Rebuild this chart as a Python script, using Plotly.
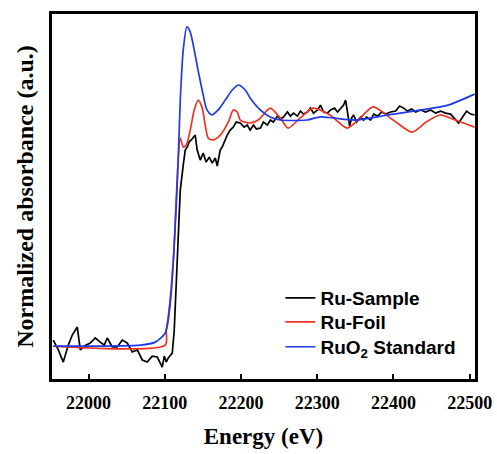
import plotly.graph_objects as go

# ---- data ----
sample_E = [21953.7, 21960.3, 21966.8, 21973.4, 21978.6, 21985.2, 21989.1, 21994.4, 22002.2, 22008.8,
            22015.3, 22020.6, 22024.5, 22031.1, 22037.6, 22044.2, 22050.8, 22057.3, 22063.9, 22070.4,
            22077.0, 22083.5, 22090.1, 22094.0, 22096.7, 22099.3, 22101.9, 22104.5, 22109.8, 22112.4,
            22115.0, 22117.6, 22120.3, 22124.2, 22126.8, 22129.4, 22132.0, 22134.7, 22137.3, 22139.9,
            22142.5, 22146.5, 22150.4, 22154.3, 22158.3, 22162.2, 22166.2, 22168.8, 22172.7, 22175.3,
            22179.3, 22181.9, 22185.8, 22189.8, 22193.7, 22199.0, 22204.2, 22208.2, 22212.0, 22216.3,
            22220.2, 22225.5, 22229.4, 22234.6, 22238.6, 22242.5, 22247.8, 22251.7, 22255.7, 22260.9,
            22264.9, 22268.8, 22274.1, 22278.0, 22282.0, 22287.2, 22291.2, 22295.1, 22300.4, 22304.3,
            22308.3, 22313.5, 22317.5, 22322.7, 22326.7, 22330.6, 22334.6, 22337.2, 22339.8, 22342.5,
            22345.1, 22347.7, 22351.7, 22356.9, 22360.9, 22364.8, 22370.1, 22374.0, 22379.3, 22384.5,
            22389.8, 22396.3, 22402.9, 22408.1, 22413.4, 22418.6, 22423.9, 22429.1, 22435.7, 22442.2,
            22448.8, 22455.3, 22461.9, 22468.4, 22475.0, 22481.6, 22485.5, 22490.7, 22496.0, 22501.3,
            22506.5]
sample_A = [0.026, -0.017, -0.070, 0.004, 0.048, 0.083, -0.017, 0.000, 0.013, 0.035,
            0.017, 0.004, 0.035, -0.004, -0.004, 0.026, 0.013, -0.026, -0.017, -0.061,
            -0.070, -0.044, -0.048, -0.079, -0.092, -0.044, -0.070, -0.052, -0.031, 0.070,
            0.288, 0.507, 0.681, 0.790, 0.856, 0.869, 0.891, 0.900, 0.913, 0.921,
            0.856, 0.812, 0.843, 0.803, 0.825, 0.799, 0.821, 0.786, 0.856, 0.869,
            0.900, 0.921, 0.943, 0.956, 0.978, 0.974, 0.956, 0.965, 0.943, 0.965,
            0.948, 0.952, 0.978, 0.965, 0.987, 0.978, 1.004, 0.991, 1.000, 1.022,
            1.004, 1.017, 1.004, 1.026, 1.013, 1.022, 1.039, 1.017, 1.031, 1.052,
            1.022, 1.017, 1.031, 1.039, 1.022, 1.039, 1.052, 1.074, 1.022, 0.961,
            0.996, 1.009, 0.978, 1.000, 0.987, 1.000, 0.987, 1.013, 1.004, 1.022,
            1.013, 1.022, 1.026, 1.048, 1.039, 1.026, 1.035, 1.022, 1.031, 1.022,
            1.031, 1.017, 1.026, 1.017, 1.013, 0.987, 0.974, 1.000, 1.026, 1.013,
            1.009]

foil_E = [21953.7, 22100.6, 22101.9, 22104.5, 22111.5, 22116.0, 22120.3, 22124.2, 22128.2, 22133.4,
          22138.6, 22143.9, 22149.1, 22153.0, 22157.0, 22163.5, 22172.7, 22183.3, 22189.8, 22195.0,
          22199.0, 22212.0, 22222.6, 22238.3, 22251.4, 22261.9, 22277.6, 22294.6, 22316.9, 22339.3,
          22356.3, 22373.4, 22399.6, 22424.5, 22442.9, 22461.3, 22481.0, 22506.5]
foil_A = [0.000, 0.004, 0.070, 0.127, 0.390, 0.712, 0.908, 0.869, 0.878, 0.943,
          1.031, 1.074, 1.039, 0.965, 0.908, 0.900, 0.921, 0.978, 1.031, 1.022,
          0.987, 0.974, 0.987, 1.039, 0.996, 0.952, 0.996, 1.039, 1.009, 0.952,
          0.996, 1.044, 0.987, 0.934, 0.978, 1.009, 0.987, 0.956]

ruo2_E = [21953.7, 22068.0, 22087.5, 22100.6, 22107.2, 22116.0, 22120.3, 22124.2, 22129.0, 22133.4,
          22143.6, 22150.4, 22155.3, 22161.8, 22170.0, 22179.3, 22188.5, 22196.7, 22205.5, 22212.0,
          22225.2, 22238.3, 22251.4, 22286.4, 22303.9, 22321.0, 22349.8, 22393.0, 22437.3, 22471.7,
          22506.5]
ruo2_A = [0.000, 0.004, 0.017, 0.057, 0.188, 0.681, 1.074, 1.293, 1.394, 1.371,
          1.205, 1.096, 1.031, 1.009, 1.031, 1.074, 1.118, 1.140, 1.118, 1.083,
          1.031, 1.000, 0.987, 0.987, 1.001, 0.996, 0.987, 1.009, 1.031, 1.052,
          1.100]

x_ticks = [22000, 22100, 22200, 22300, 22400, 22500]
x_tick_labels = ["22000", "22100", "22200", "22300", "22400", "22500"]

fig = go.Figure()
fig.add_trace(go.Scatter(x=sample_E, y=sample_A, mode="lines", name="Ru-Sample",
                         line=dict(color="black", width=1.7), legend="legend"))
fig.add_trace(go.Scatter(x=foil_E, y=foil_A, mode="lines", name="Ru-Foil",
                         line=dict(color="#ee3322", width=1.7, shape="spline", smoothing=0.7),
                         legend="legend2"))
fig.add_trace(go.Scatter(x=ruo2_E, y=ruo2_A, mode="lines", name="RuO<sub>2</sub> Standard",
                         line=dict(color="#1f3ae8", width=1.7, shape="spline", smoothing=0.7),
                         legend="legend3"))

serif = "Liberation Serif"
leg_font = dict(family="Liberation Sans", size=19, color="black", weight="bold")
def leg(y):
    return dict(x=0.54, y=y, xanchor="left", yanchor="middle", font=leg_font,
                bgcolor="rgba(0,0,0,0)", itemwidth=30)

fig.update_layout(
    width=497, height=454,
    margin=dict(l=52, r=22, t=14, b=75, autoexpand=False),
    plot_bgcolor="white", paper_bgcolor="white",
    showlegend=True,
    legend=leg(0.222), legend2=leg(0.156), legend3=leg(0.088),
    xaxis=dict(range=[21952, 22507], tickvals=x_ticks, ticktext=x_tick_labels,
               automargin=False, ticklabeloverflow="allow", ticklabelstandoff=6,
               ticks="inside", ticklen=5, tickwidth=2, tickcolor="black",
               showline=True, linecolor="black", linewidth=2.5, mirror=True,
               showgrid=False, zeroline=False,
               tickfont=dict(family=serif, size=18, color="black", weight="bold"),
               title=dict(text="<b>Energy (eV)</b>", font=dict(family=serif, size=23, color="black"),
                          standoff=16)),
    yaxis=dict(range=[-0.144, 1.45], showticklabels=False, ticks="", automargin=False,
               showline=True, linecolor="black", linewidth=2.5, mirror=True,
               showgrid=False, zeroline=False,
               title=dict(text="<b>Normalized absorbance (a.u.)</b>",
                          font=dict(family=serif, size=24, color="black"), standoff=9)),
)

fig.write_html("out.html", config={"displayModeBar": False},
               post_script="document.body.style.margin='0px';document.body.style.overflow='hidden';")
